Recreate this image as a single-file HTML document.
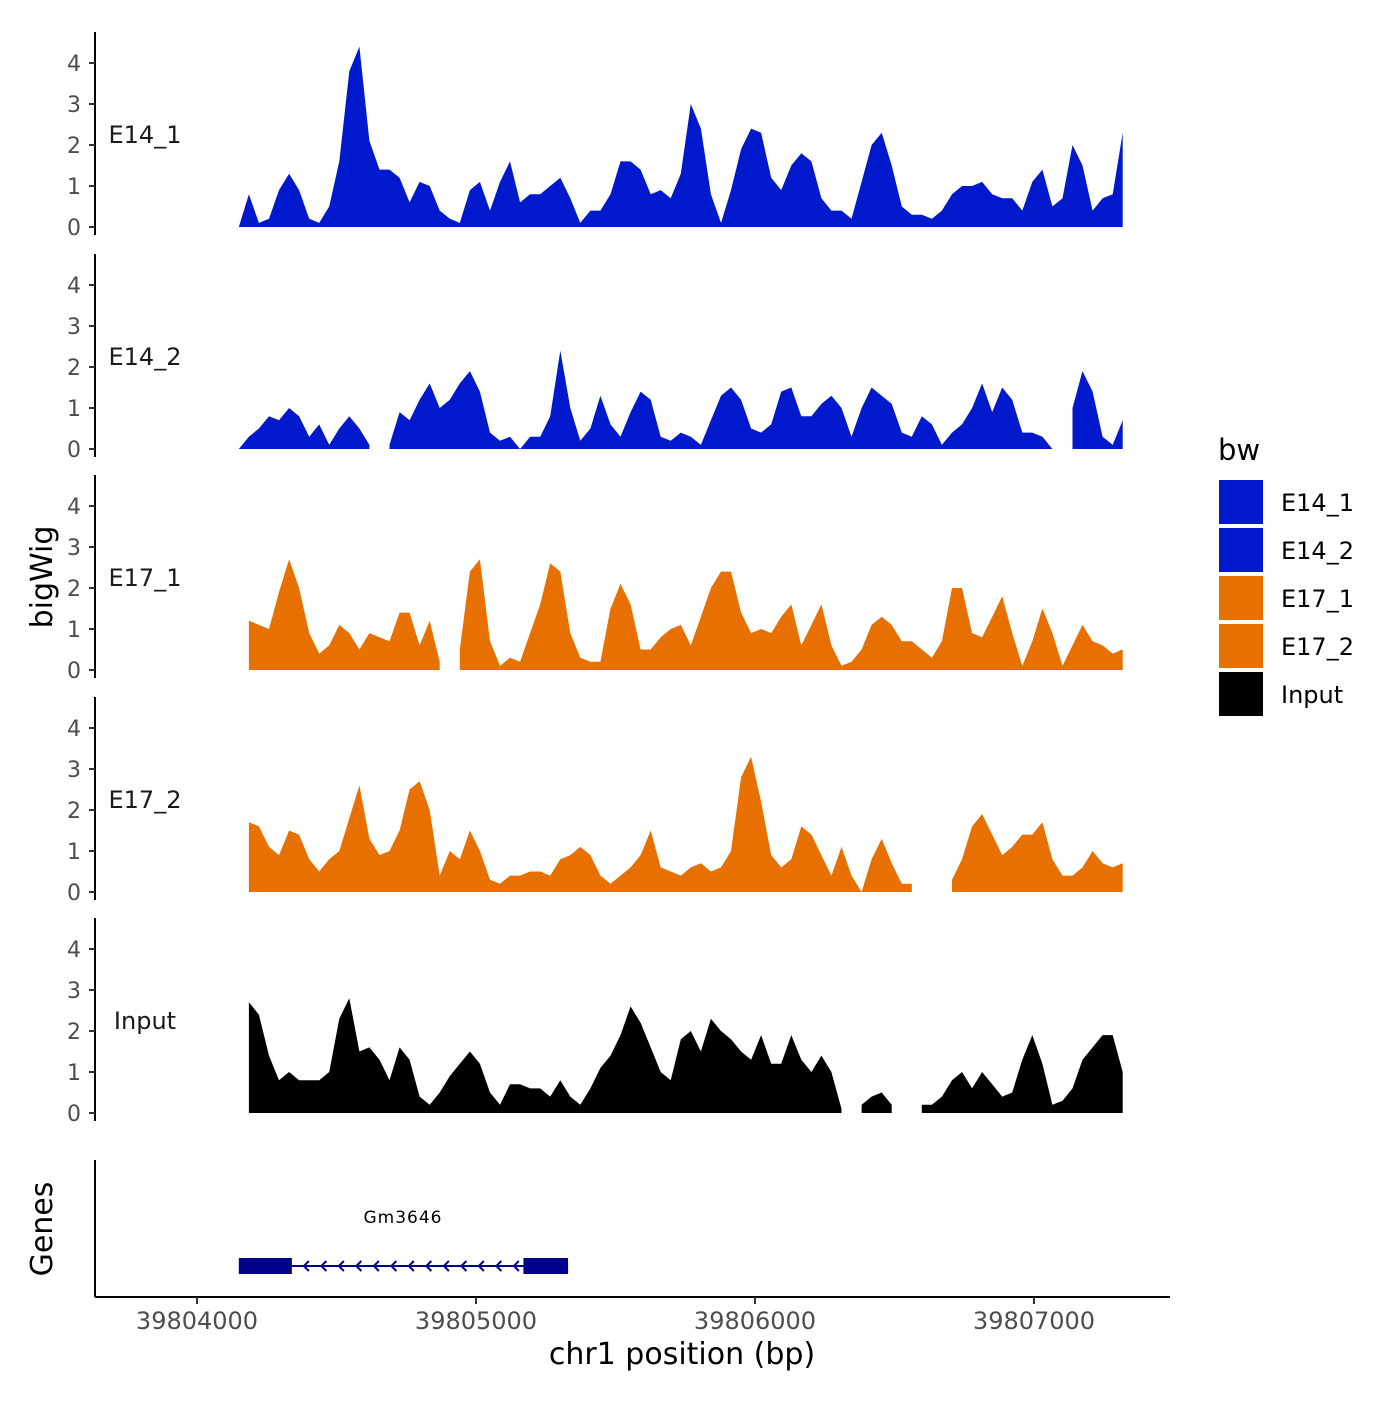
<!DOCTYPE html>
<html><head><meta charset="utf-8"><style>
html,body{margin:0;padding:0;background:#fff;}
svg text{font-family:"DejaVu Sans","Liberation Sans",sans-serif;}
</style></head><body>
<svg id="chart" width="1400" height="1400" xmlns="http://www.w3.org/2000/svg">
<rect width="1400" height="1400" fill="#fff"/>
<g id="tracks"></g>
<g id="xaxis"></g>
<text x="0" y="0" transform="translate(52,577) rotate(-90)" text-anchor="middle" font-size="30" fill="#000">bigWig</text>
<text x="0" y="0" transform="translate(52,1229) rotate(-90)" text-anchor="middle" font-size="30" fill="#000">Genes</text>
<text x="682" y="1364" text-anchor="middle" font-size="30" fill="#000">chr1 position (bp)</text>
<g id="legend"></g>
<g id="genes"></g>
</svg>
<script>
const NS="http://www.w3.org/2000/svg";
const binStart=39804150, binStep=36;
const trackNames=["E14_1","E14_2","E17_1","E17_2","Input"];
const trackColors=["#0019cc","#0019cc","#e87000","#e87000","#000000"];
const xTicks=[39804000,39805000,39806000,39807000];
const yTicks=[0,1,2,3,4];
const e14_1=[0,0.8,0.1,0.2,0.9,1.3,0.9,0.2,0.1,0.5,1.6,3.8,4.4,2.1,1.4,1.4,1.2,0.6,1.1,1.0,0.4,0.2,0.1,0.9,1.1,0.4,1.1,1.6,0.6,0.8,0.8,1.0,1.2,0.7,0.1,0.4,0.4,0.8,1.6,1.6,1.4,0.8,0.9,0.7,1.3,3.0,2.4,0.8,0.1,0.9,1.9,2.4,2.3,1.2,0.9,1.5,1.8,1.6,0.7,0.4,0.4,0.2,1.1,2.0,2.3,1.5,0.5,0.3,0.3,0.2,0.4,0.8,1.0,1.0,1.1,0.8,0.7,0.7,0.4,1.1,1.4,0.5,0.7,2.0,1.5,0.4,0.7,0.8,2.3];
const e14_2=[0,0.3,0.5,0.8,0.7,1.0,0.8,0.3,0.6,0.1,0.5,0.8,0.5,0.1,null,0.1,0.9,0.7,1.2,1.6,1.0,1.2,1.6,1.9,1.4,0.4,0.2,0.3,0.0,0.3,0.3,0.8,2.4,1.0,0.2,0.5,1.3,0.6,0.3,0.9,1.4,1.2,0.3,0.2,0.4,0.3,0.1,0.7,1.3,1.5,1.2,0.5,0.4,0.6,1.4,1.5,0.8,0.8,1.1,1.3,1.0,0.3,1.0,1.5,1.3,1.1,0.4,0.3,0.8,0.6,0.1,0.4,0.6,1.0,1.6,0.9,1.5,1.2,0.4,0.4,0.3,0.0,null,1.0,1.9,1.4,0.3,0.1,0.7];
const e17_1=[null,1.2,1.1,1.0,1.9,2.7,2.0,0.9,0.4,0.6,1.1,0.9,0.5,0.9,0.8,0.7,1.4,1.4,0.6,1.2,0.2,null,0.5,2.4,2.7,0.7,0.1,0.3,0.2,0.9,1.6,2.6,2.4,0.9,0.3,0.2,0.2,1.5,2.1,1.6,0.5,0.5,0.8,1.0,1.1,0.6,1.3,2.0,2.4,2.4,1.4,0.9,1.0,0.9,1.3,1.6,0.6,1.1,1.6,0.6,0.1,0.2,0.5,1.1,1.3,1.1,0.7,0.7,0.5,0.3,0.7,2.0,2.0,0.9,0.8,1.3,1.8,0.9,0.1,0.7,1.5,0.9,0.1,0.6,1.1,0.7,0.6,0.4,0.5];
const e17_2=[null,1.7,1.6,1.1,0.9,1.5,1.4,0.8,0.5,0.8,1.0,1.8,2.6,1.3,0.9,1.0,1.5,2.5,2.7,2.0,0.4,1.0,0.8,1.5,1.0,0.3,0.2,0.4,0.4,0.5,0.5,0.4,0.8,0.9,1.1,0.9,0.4,0.2,0.4,0.6,0.9,1.5,0.6,0.5,0.4,0.6,0.7,0.5,0.6,1.0,2.8,3.3,2.2,0.9,0.6,0.8,1.6,1.4,0.9,0.4,1.1,0.4,0.0,0.8,1.3,0.7,0.2,0.2,null,null,null,0.3,0.8,1.6,1.9,1.4,0.9,1.1,1.4,1.4,1.7,0.8,0.4,0.4,0.6,1.0,0.7,0.6,0.7];
const input=[null,2.7,2.4,1.4,0.8,1.0,0.8,0.8,0.8,1.0,2.3,2.8,1.5,1.6,1.3,0.8,1.6,1.3,0.4,0.2,0.5,0.9,1.2,1.5,1.2,0.5,0.2,0.7,0.7,0.6,0.6,0.4,0.8,0.4,0.2,0.6,1.1,1.4,1.9,2.6,2.2,1.6,1.0,0.8,1.8,2.0,1.5,2.3,2.0,1.8,1.5,1.3,1.9,1.2,1.2,1.9,1.3,1.0,1.4,1.0,0.1,null,0.2,0.4,0.5,0.2,null,null,0.2,0.2,0.4,0.8,1.0,0.6,1.0,0.7,0.4,0.5,1.3,1.9,1.2,0.2,0.3,0.6,1.3,1.6,1.9,1.9,1.0];
const trackValues=[e14_1,e14_2,e17_1,e17_2,input];
const geneStart=39804150, geneEnd=39805330;
const exons=[[39804150,39804340],[39805170,39805330]];

const xS=v=>197+(v-39804000)*0.279;
const panelBase=[227,449,670,892,1113];
const ySc=(p,v)=>panelBase[p]-v*41;
function mk(tag,attrs,parent){const e=document.createElementNS(NS,tag);for(const k in attrs)e.setAttribute(k,attrs[k]);parent.appendChild(e);return e;}
const tracks=document.getElementById('tracks');
trackNames.forEach((name,p)=>{
  const g=mk('g',{},tracks);
  
  
  const vals=trackValues[p];
  let seg=[];const segs=[];
  vals.forEach((v,i)=>{const bp=binStart+i*binStep;if(v===null){if(seg.length)segs.push(seg);seg=[];}else seg.push([bp,v]);});
  if(seg.length)segs.push(seg);
  segs.forEach(s=>{
    let d='M'+xS(s[0][0]).toFixed(1)+','+ySc(p,0);
    s.forEach(q=>{d+='L'+xS(q[0]).toFixed(1)+','+ySc(p,q[1]).toFixed(1);});
    d+='L'+xS(s[s.length-1][0]).toFixed(1)+','+ySc(p,0)+'Z';
    const a=mk('path',{d:d,fill:trackColors[p]},g);
    
    
  });
  const ax=mk('line',{x1:95,x2:95,y1:ySc(p,0)-195,y2:ySc(p,0)+8,stroke:'#000','stroke-width':2},g);
  
  
  yTicks.forEach(t=>{
    mk('line',{x1:89,x2:95,y1:ySc(p,t),y2:ySc(p,t),stroke:'#333','stroke-width':2},g);
    const tl=mk('text',{x:81,y:ySc(p,t)+8,'text-anchor':'end','font-size':22,fill:'#4d4d4d'},g);
    tl.textContent=t;
    
    
  });
  const lb=mk('text',{x:145,y:ySc(p,0)-84,'text-anchor':'middle','font-size':24,fill:'#1a1a1a'},g);
  lb.textContent=name;
  
  
});
const xa=document.getElementById('xaxis');
mk('line',{x1:95,x2:1170,y1:1297,y2:1297,stroke:'#000','stroke-width':2},xa);
mk('line',{x1:95,x2:95,y1:1160,y2:1297,stroke:'#000','stroke-width':2},xa);
xTicks.forEach(t=>{
  mk('line',{x1:xS(t),x2:xS(t),y1:1297,y2:1304,stroke:'#333','stroke-width':2},xa);
  const tl=mk('text',{x:xS(t),y:1329,'text-anchor':'middle','font-size':24,fill:'#4d4d4d'},xa);
  tl.textContent=t;
  
  
});
const gg=document.getElementById('genes');
const gy=1266;
mk('line',{x1:xS(geneStart),x2:xS(geneEnd),y1:gy,y2:gy,stroke:'#00008b','stroke-width':2},gg);
for(let x=xS(exons[0][1])+12;x<xS(exons[1][0])-4;x+=17.5){
  mk('path',{d:`M${x+5},${gy-5}L${x},${gy}L${x+5},${gy+5}`,fill:'none',stroke:'#00008b','stroke-width':2},gg);
}
exons.forEach(e=>{
  const r=mk('rect',{x:xS(e[0]),y:gy-8,width:xS(e[1])-xS(e[0]),height:16,fill:'#00008b'},gg);
  
  
});
const gl=mk('text',{x:403,y:1223,'text-anchor':'middle','font-size':17,'letter-spacing':1,fill:'#000'},gg);
gl.textContent='Gm3646';


const lg=document.getElementById('legend');
const lt=mk('text',{x:1218,y:460,'font-size':29,fill:'#000'},lg);
lt.textContent='bw';


trackNames.forEach((n,i)=>{
  const e=mk('g',{},lg);
  
  
  mk('rect',{x:1219,y:480+i*48,width:44,height:44,fill:trackColors[i]},e);
  const t=mk('text',{x:1281,y:511+i*48,'font-size':24,fill:'#000'},e);
  t.textContent=n;
});
</script>
</body></html>
